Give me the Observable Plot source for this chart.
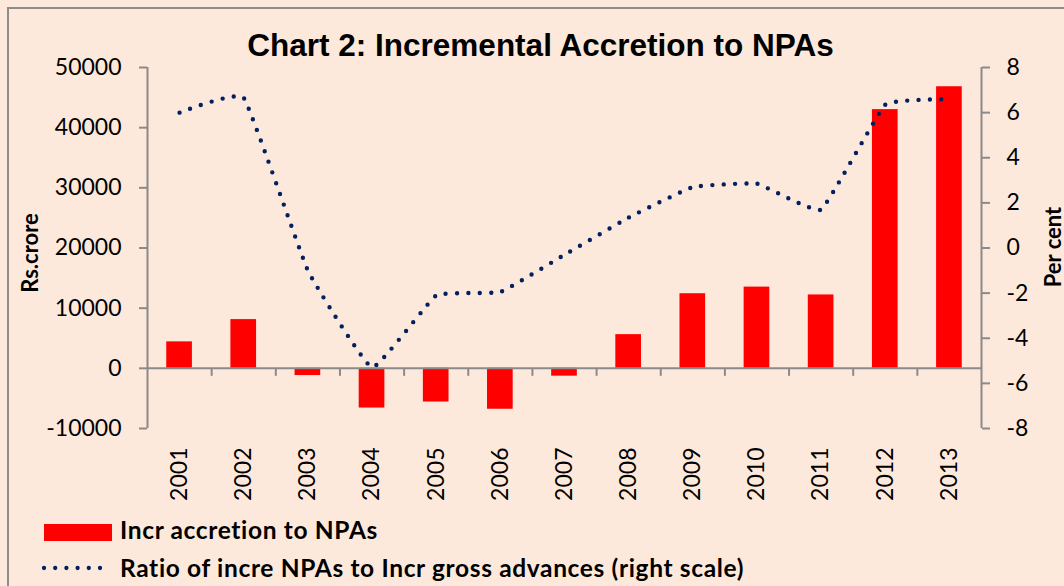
<!DOCTYPE html>
<html>
<head>
<meta charset="utf-8">
<script src="https://cdn.jsdelivr.net/npm/d3@7"></script>
<script src="https://cdn.jsdelivr.net/npm/@observablehq/plot@0.6"></script>
<style>
  body { margin: 0; }
  #wrap { position: relative; width: 1064px; height: 586px; background: #fde9db; overflow: hidden; font-family: Lato, sans-serif; color: #000; }
  #frame { position: absolute; left: 7px; top: 7px; width: 1080px; height: 600px; border: 2px solid #8c8c8c; box-sizing: border-box; }
  #title { position: absolute; left: 0; width: 1081px; top: 30px; text-align: center; font: bold 31.5px "Liberation Sans", Arial, sans-serif; line-height: 1; white-space: nowrap; }
  #chart { position: absolute; left: 0; top: 0; }
  .ytitle { position: absolute; font: bold 22px Lato, sans-serif; line-height: 16px; white-space: nowrap; transform: translate(-50%, -50%) rotate(-90deg); }
  .leg { position: absolute; left: 120px; font: bold 24.5px Lato, sans-serif; letter-spacing: 0.65px; line-height: 1; white-space: nowrap; }
  #sw1 { position: absolute; left: 44px; top: 524px; width: 68px; height: 17px; background: #ff0000; }
  #sw2 { position: absolute; left: 38px; top: 561px; }
</style>
</head>
<body>
<div id="wrap">
  <div id="frame"></div>
  <div id="chart"></div>
  <div id="title">Chart 2: Incremental Accretion to NPAs</div>
  <div class="ytitle" style="left:29.5px;top:253px;">Rs.crore</div>
  <div class="ytitle" style="left:1052.5px;top:247px;">Per cent</div>
  <div id="sw1"></div>
  <svg id="sw2" width="70" height="14"><line x1="6" y1="7" x2="63" y2="7" stroke="#002060" stroke-width="4.3" stroke-dasharray="0 11.2" stroke-linecap="round"/></svg>
  <div class="leg" style="top:518.3px;">Incr accretion to NPAs</div>
  <div class="leg" style="top:555.8px;">Ratio of incre NPAs to Incr gross advances (right scale)</div>
</div>
<script>
// ---- data ----
const years = [2001, 2002, 2003, 2004, 2005, 2006, 2007, 2008, 2009, 2010, 2011, 2012, 2013];
const incrNPA = [4400, 8100, -1200, -6600, -5600, -6800, -1300, 5600, 12400, 13500, 12200, 43000, 46800];
const ratioPct = [6.0, 6.65, -1.0, -5.3, -2.1, -1.95, -0.3, 1.35, 2.7, 2.85, 1.7, 6.35, 6.6];
const leftTicks = [-10000, 0, 10000, 20000, 30000, 40000, 50000];
const rightTicks = [-8, -6, -4, -2, 0, 2, 4, 6, 8];

const leftDomain = [leftTicks[0], leftTicks[leftTicks.length - 1]];
const rightDomain = [rightTicks[0], rightTicks[rightTicks.length - 1]];
const xDomain = [years[0] - 0.5, years[years.length - 1] + 0.5];
const boundaries = years.slice(0, -1).map(y => y + 0.5);

// map right-scale values onto the left scale
const k = (leftDomain[1] - leftDomain[0]) / (rightDomain[1] - rightDomain[0]);
const toLeft = v => leftDomain[0] + (v - rightDomain[0]) * k;
const fromLeft = v => Math.round(rightDomain[0] + (v - leftDomain[0]) / k);

const bars = years.map((y, i) => ({year: y, value: incrNPA[i]}));
const line = years.map((y, i) => ({year: y, value: toLeft(ratioPct[i])}));

const axisGray = "#8a8a8a";

const chart = Plot.plot({
  width: 1064,
  height: 510,
  marginTop: 67,
  marginBottom: 82,
  marginLeft: 147,
  marginRight: 83,
  style: {background: "transparent", fontFamily: "Lato, sans-serif", fontSize: "23px", color: "#000"},
  x: {type: "linear", domain: xDomain},
  y: {domain: leftDomain},
  marks: [
    Plot.rectY(bars, {x1: d => d.year - 0.2, x2: d => d.year + 0.2, y: "value", fill: "#ff0000"}),
    Plot.ruleY([0], {stroke: axisGray, strokeWidth: 2}),
    Plot.ruleX(boundaries, {y1: 0, y2: 0, insetBottom: -8, stroke: axisGray, strokeWidth: 2}),
    Plot.ruleX([xDomain[0]], {y1: leftDomain[0], y2: leftDomain[1], stroke: axisGray, strokeWidth: 2}),
    Plot.ruleX([xDomain[1]], {y1: leftDomain[0], y2: leftDomain[1], stroke: axisGray, strokeWidth: 2}),
    Plot.axisY({anchor: "left", ticks: leftTicks, tickSize: 8, tickPadding: 18, tickFormat: d => String(d), stroke: axisGray, strokeWidth: 2, fill: "#000", label: null}),
    Plot.axisY({anchor: "right", ticks: rightTicks.map(toLeft), tickSize: 8, tickPadding: 17, tickFormat: fromLeft, stroke: axisGray, strokeWidth: 2, fill: "#000", label: null}),
    Plot.axisX({anchor: "bottom", ticks: years, tickSize: 0, tickPadding: 19, tickRotate: -90, tickFormat: d => String(d), fill: "#000", label: null}),
    Plot.line(line, {x: "year", y: "value", curve: d3.curveCardinal.tension(0.7), stroke: "#002060", strokeWidth: 4.4, strokeDasharray: "0 11.3", strokeLinecap: "round"})
  ]
});
document.getElementById("chart").appendChild(chart);
</script>
</body>
</html>
